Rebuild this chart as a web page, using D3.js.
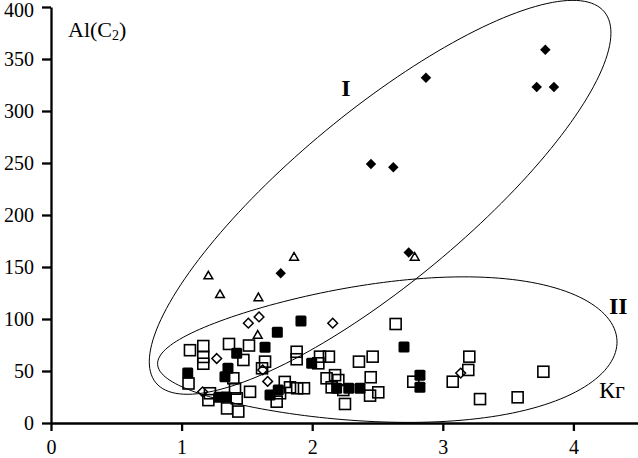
<!DOCTYPE html>
<html>
<head>
<meta charset="utf-8">
<script src="https://cdn.jsdelivr.net/npm/d3@7"></script>
<style>
  html, body { margin: 0; padding: 0; background: #fff; }
  svg { display: block; font-family: "Liberation Serif", "Times New Roman", serif; }
  .axis path, .axis line { stroke: #000; stroke-width: 2.3; }
  .axis text { font-size: 20px; fill: #000; font-family: "Liberation Serif", serif; }
</style>
</head>
<body>
<svg id="chart" width="638" height="458"></svg>
<script>
// Data: [Кг, Al(C2)]
var filledDiamonds = [
  [3.785, 359], [2.871, 332], [3.719, 323], [3.851, 323],
  [2.450, 249], [2.621, 246], [2.739, 164], [1.759, 144]
];
var openTriangles = [
  [2.785, 160], [1.861, 160], [1.205, 142], [1.294, 124], [1.588, 121], [1.583, 85]
];
var openDiamonds = [
  [1.511, 96], [1.593, 102], [2.157, 96], [1.269, 62],
  [1.621, 51], [1.659, 40], [1.161, 30], [3.137, 48]
];
var openSquares = [
  [1.064, 70], [1.166, 74], [1.166, 63.5], [1.166, 57], [1.363, 76], [1.516, 74.5],
  [1.473, 60.6], [1.053, 38], [1.396, 43], [1.409, 33], [1.524, 30], [1.422, 23.7],
  [1.217, 28.6], [1.205, 22], [1.348, 14], [1.434, 11], [1.616, 52.6], [1.639, 59],
  [1.728, 20.5], [1.754, 28.6], [1.79, 39.5], [1.83, 34.3], [1.885, 33.4], [1.937, 33.4],
  [1.881, 68.5], [1.881, 61.3], [2.06, 63.8], [2.128, 63.8], [2.047, 57.4], [2.11, 43],
  [2.175, 46], [2.2, 41.3], [2.149, 34.3], [2.238, 31.7], [2.251, 18.3], [2.358, 59],
  [2.463, 63.8], [2.448, 44], [2.443, 26.3], [2.506, 29.5], [2.639, 95.2], [2.774, 39.7],
  [3.203, 63.8], [3.195, 51], [3.076, 39.7], [3.285, 23], [3.573, 24.7], [3.77, 49.3]
];
var filledSquares = [
  [1.047, 48], [1.422, 67], [1.355, 52.6], [1.332, 44.5], [1.286, 24.7], [1.34, 25],
  [1.639, 72.8], [1.733, 87.2], [1.914, 98], [1.677, 27], [1.74, 31.7], [1.996, 57.4],
  [2.187, 33.4], [2.28, 33.4], [2.366, 33.4], [2.703, 73], [2.825, 46], [2.825, 34.3]
];
var xTicks = [0, 1, 2, 3, 4];
var yTicks = [0, 50, 100, 150, 200, 250, 300, 350, 400];

var svg = d3.select("#chart");

var x = d3.scaleLinear().domain([0, 4.5]).range([51, 638.7]);
var y = d3.scaleLinear().domain([0, 400]).range([423, 7]);

// Outline groups I and II
function ellipsePath(cx, cy, a, b, angle, taper) {
  let rad = angle * Math.PI / 180;
  let pts = d3.range(0, 361, 2).map(function (deg) {
    let t = deg * Math.PI / 180;
    let px = a * Math.cos(t);
    let py = b * Math.sin(t) * (1 + taper * Math.cos(t));
    return [cx + px * Math.cos(rad) - py * Math.sin(rad),
            cy + px * Math.sin(rad) + py * Math.cos(rad)];
  });
  return d3.line()(pts) + "Z";
}

var outlines = svg.append("g").attr("class", "outlines")
  .attr("fill", "none").attr("stroke", "#000").attr("stroke-width", 1);
outlines.append("path").attr("d", ellipsePath(x(2.52), y(217), 291, 86, -39.6, 0));
outlines.append("path").attr("d", ellipsePath(x(2.575), y(68), 230, 70, -3, 0.25));

// Axes
svg.append("g").attr("class", "axis")
  .attr("transform", "translate(0," + y(0) + ")")
  .call(d3.axisBottom(x).tickValues(xTicks).tickFormat(d3.format("d"))
    .tickSize(8).tickSizeOuter(0).tickPadding(9));

var yAxis = svg.append("g").attr("class", "axis")
  .attr("transform", "translate(" + x(0) + ",0)")
  .call(d3.axisLeft(y).tickValues(yTicks).tickFormat(d3.format("d"))
    .tickSize(9).tickSizeOuter(0).tickPadding(8));
// keep the top label inside the frame
yAxis.selectAll(".tick text").filter(function (d) { return d === 400; })
  .attr("dy", "0.45em");

// Markers
var sq = 11;
svg.append("g").selectAll("rect")
  .data(openSquares).enter().append("rect")
  .attr("x", function (d) { return x(d[0]) - sq / 2; })
  .attr("y", function (d) { return y(d[1]) - sq / 2; })
  .attr("width", sq).attr("height", sq)
  .attr("fill", "none").attr("stroke", "#000").attr("stroke-width", 1.6);

svg.append("g").selectAll("rect")
  .data(filledSquares).enter().append("rect")
  .attr("x", function (d) { return x(d[0]) - sq / 2; })
  .attr("y", function (d) { return y(d[1]) - sq / 2; })
  .attr("width", sq).attr("height", sq).attr("rx", 1.5)
  .attr("fill", "#000");

var diamond = d3.symbol().type(d3.symbolDiamond2).size(60);
svg.append("g").selectAll("path")
  .data(openDiamonds).enter().append("path")
  .attr("d", diamond)
  .attr("transform", function (d) { return "translate(" + x(d[0]) + "," + y(d[1]) + ")"; })
  .attr("fill", "none").attr("stroke", "#000").attr("stroke-width", 1.5);

svg.append("g").selectAll("path")
  .data(filledDiamonds).enter().append("path")
  .attr("d", d3.symbol().type(d3.symbolDiamond2).size(70))
  .attr("transform", function (d) { return "translate(" + x(d[0]) + "," + y(d[1]) + ")"; })
  .attr("fill", "#000");

var triangle = d3.symbol().type(d3.symbolTriangle2).size(55);
svg.append("g").selectAll("path")
  .data(openTriangles).enter().append("path")
  .attr("d", triangle)
  .attr("transform", function (d) { return "translate(" + x(d[0]) + "," + (y(d[1]) + 1) + ")"; })
  .attr("fill", "none").attr("stroke", "#000").attr("stroke-width", 1.5);

// Labels
var title = svg.append("text").attr("x", 68).attr("y", 37)
  .attr("font-size", 22).attr("fill", "#000");
title.append("tspan").text("Al(C");
title.append("tspan").attr("font-size", 14).attr("dy", 3).text("2");
title.append("tspan").attr("dy", -3).text(")");

svg.append("text").attr("x", 346).attr("y", 96).attr("text-anchor", "middle")
  .attr("font-size", 24).attr("font-weight", "bold").text("I");
svg.append("text").attr("x", 609).attr("y", 314)
  .attr("font-size", 24).attr("font-weight", "bold").text("II");
svg.append("text").attr("x", 599).attr("y", 398)
  .attr("font-size", 24).text("Кг");
</script>
</body>
</html>
